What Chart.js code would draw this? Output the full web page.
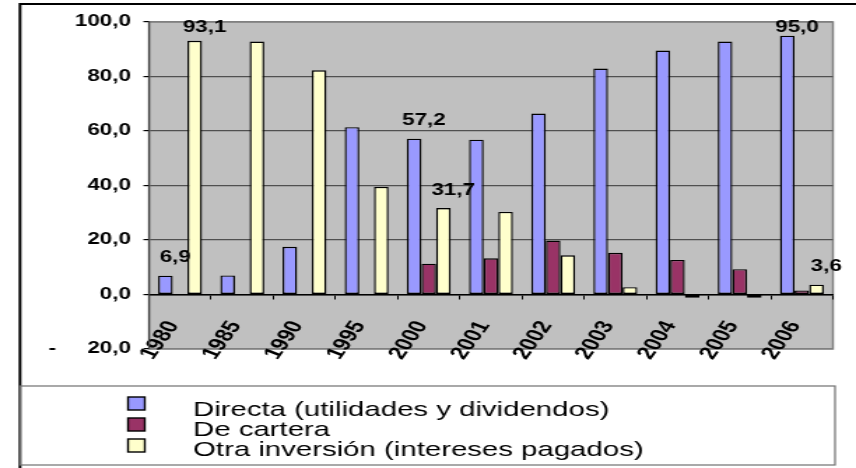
<!DOCTYPE html>
<html>
<head>
<meta charset="utf-8">
<script src="https://cdn.jsdelivr.net/npm/chart.js@4.4.1/dist/chart.umd.min.js"></script>
<style>
    html, body { margin: 0; padding: 0; background: #fff; }
</style>
</head>
<body>
<canvas id="chart" width="612" height="468" style="display:block;width:856px;height:468px"></canvas>
<script>
const years = ['1980', '1985', '1990', '1995', '2000', '2001', '2002', '2003', '2004', '2005', '2006'];
const directa = [6.9, 7.0, 17.5, 61.4, 57.2, 56.8, 66.4, 82.9, 89.5, 92.8, 95.0];
const cartera = [null, null, null, null, 11.3, 13.3, 19.8, 15.3, 12.7, 9.3, 1.5];
const otra = [93.1, 92.8, 82.3, 39.5, 31.7, 30.3, 14.4, 2.7, -1.2, -1.2, 3.6];
const seriesNames = ['Directa (utilidades y dividendos)', 'De cartera', 'Otra inversión (intereses pagados)'];
const yTicks = [-20, 0, 20, 40, 60, 80, 100];
// points that carry a value label, per series
const labelledPoints = [[0, 4, 10], [], [0, 4, 10]];

// the picture is stretched sideways, so the canvas is drawn narrow and widened by css
const K = 856 / 612;
const FONT = "'Liberation Sans', Arial, sans-serif";
const colors = ['#9999FF', '#993366', '#FFFFCC'];

function fmt(v) {
    return v.toFixed(1).replace('.', ',');
}

const framePlugin = {
    id: 'frame',
    beforeDraw(chart) {
        const { ctx, chartArea: a } = chart;
        ctx.save();
        ctx.fillStyle = '#C0C0C0';
        ctx.fillRect(a.left, a.top, a.right - a.left, a.bottom - a.top);
        ctx.strokeStyle = '#808080';
        ctx.lineWidth = 1.5;
        ctx.strokeRect(a.left, a.top, a.right - a.left, a.bottom - a.top);
        ctx.restore();
    },
    afterDatasetsDraw(chart) {
        const ctx = chart.ctx;
        ctx.save();
        ctx.font = 'bold 16px ' + FONT;
        ctx.fillStyle = '#000';
        ctx.textAlign = 'center';
        ctx.textBaseline = 'middle';
        labelledPoints.forEach((idxs, di) => {
            const meta = chart.getDatasetMeta(di);
            idxs.forEach(i => {
                const bar = meta.data[i];
                const v = chart.data.datasets[di].data[i];
                const y = Math.max(Math.min(bar.y, bar.base) - 18, 28);
                ctx.fillText(fmt(v), bar.x + 7, y);
            });
        });
        ctx.restore();
    },
    afterDraw(chart) {
        const ctx = chart.ctx;
        ctx.save();
        // outer frame
        ctx.strokeStyle = '#000';
        ctx.lineWidth = 2;
        ctx.beginPath();
        ctx.moveTo(20 / K, 468);
        ctx.lineTo(20 / K, 4);
        ctx.lineTo(612, 4);
        ctx.stroke();
        // legend box
        ctx.strokeStyle = '#707070';
        ctx.lineWidth = 1.2;
        ctx.strokeRect(20 / K, 386, 835 / K - 20 / K, 79);
        // legend entries
        ctx.font = '21px ' + FONT;
        ctx.textBaseline = 'alphabetic';
        ctx.textAlign = 'left';
        chart.data.datasets.forEach((ds, i) => {
            const top = 397 + i * 21;
            ctx.fillStyle = ds.backgroundColor;
            ctx.fillRect(128 / K, top, 12, 13);
            ctx.strokeStyle = '#000';
            ctx.lineWidth = 1.4;
            ctx.strokeRect(128 / K, top, 12, 13);
            ctx.fillStyle = '#000';
            ctx.fillText(ds.label, 193 / K, 416 + i * 20);
        });
        ctx.restore();
    }
};

new Chart(document.getElementById('chart'), {
    type: 'bar',
    data: {
        labels: years,
        datasets: [directa, cartera, otra].map((d, i) => ({
            label: seriesNames[i],
            data: d,
            backgroundColor: colors[i],
            borderColor: '#000',
            borderWidth: 1.4,
            borderSkipped: false,
            categoryPercentage: 0.706,
            barPercentage: 1.0
        }))
    },
    options: {
        responsive: false,
        animation: false,
        devicePixelRatio: 1,
        layout: {
            padding: { left: 0, top: 22, right: 612 - 836 / K, bottom: 468 - 349 }
        },
        plugins: {
            legend: { display: false },
            tooltip: { enabled: false }
        },
        scales: {
            x: {
                position: { y: 0 },
                offset: true,
                grid: {
                    drawOnChartArea: false,
                    drawTicks: true,
                    tickLength: 4,
                    tickColor: '#000',
                    offset: true
                },
                border: { display: true, color: '#000', width: 1.5 },
                ticks: {
                    autoSkip: false,
                    minRotation: 62,
                    maxRotation: 62,
                    padding: 19,
                    labelOffset: -5,
                    color: '#000',
                    font: { family: FONT, size: 18, weight: 'bold' }
                }
            },
            y: {
                min: yTicks[0],
                max: yTicks[yTicks.length - 1],
                afterFit(scale) { scale.width = 149 / K; },
                afterBuildTicks(scale) { scale.ticks = yTicks.map(v => ({ value: v })); },
                grid: {
                    color: ctx => (ctx.tick && (ctx.tick.value === -20 || ctx.tick.value === 100)) ? '#808080' : '#505050',
                    lineWidth: 1.2,
                    tickLength: 4,
                    tickColor: '#000'
                },
                border: { display: true, color: '#404040', width: 1.2 },
                ticks: {
                    padding: 9,
                    color: '#000',
                    font: { family: FONT, size: 16, weight: 'bold' },
                    callback: v => v < 0 ? '-     ' + fmt(-v) : fmt(v)
                }
            }
        }
    },
    plugins: [framePlugin]
});
</script>
</body>
</html>
